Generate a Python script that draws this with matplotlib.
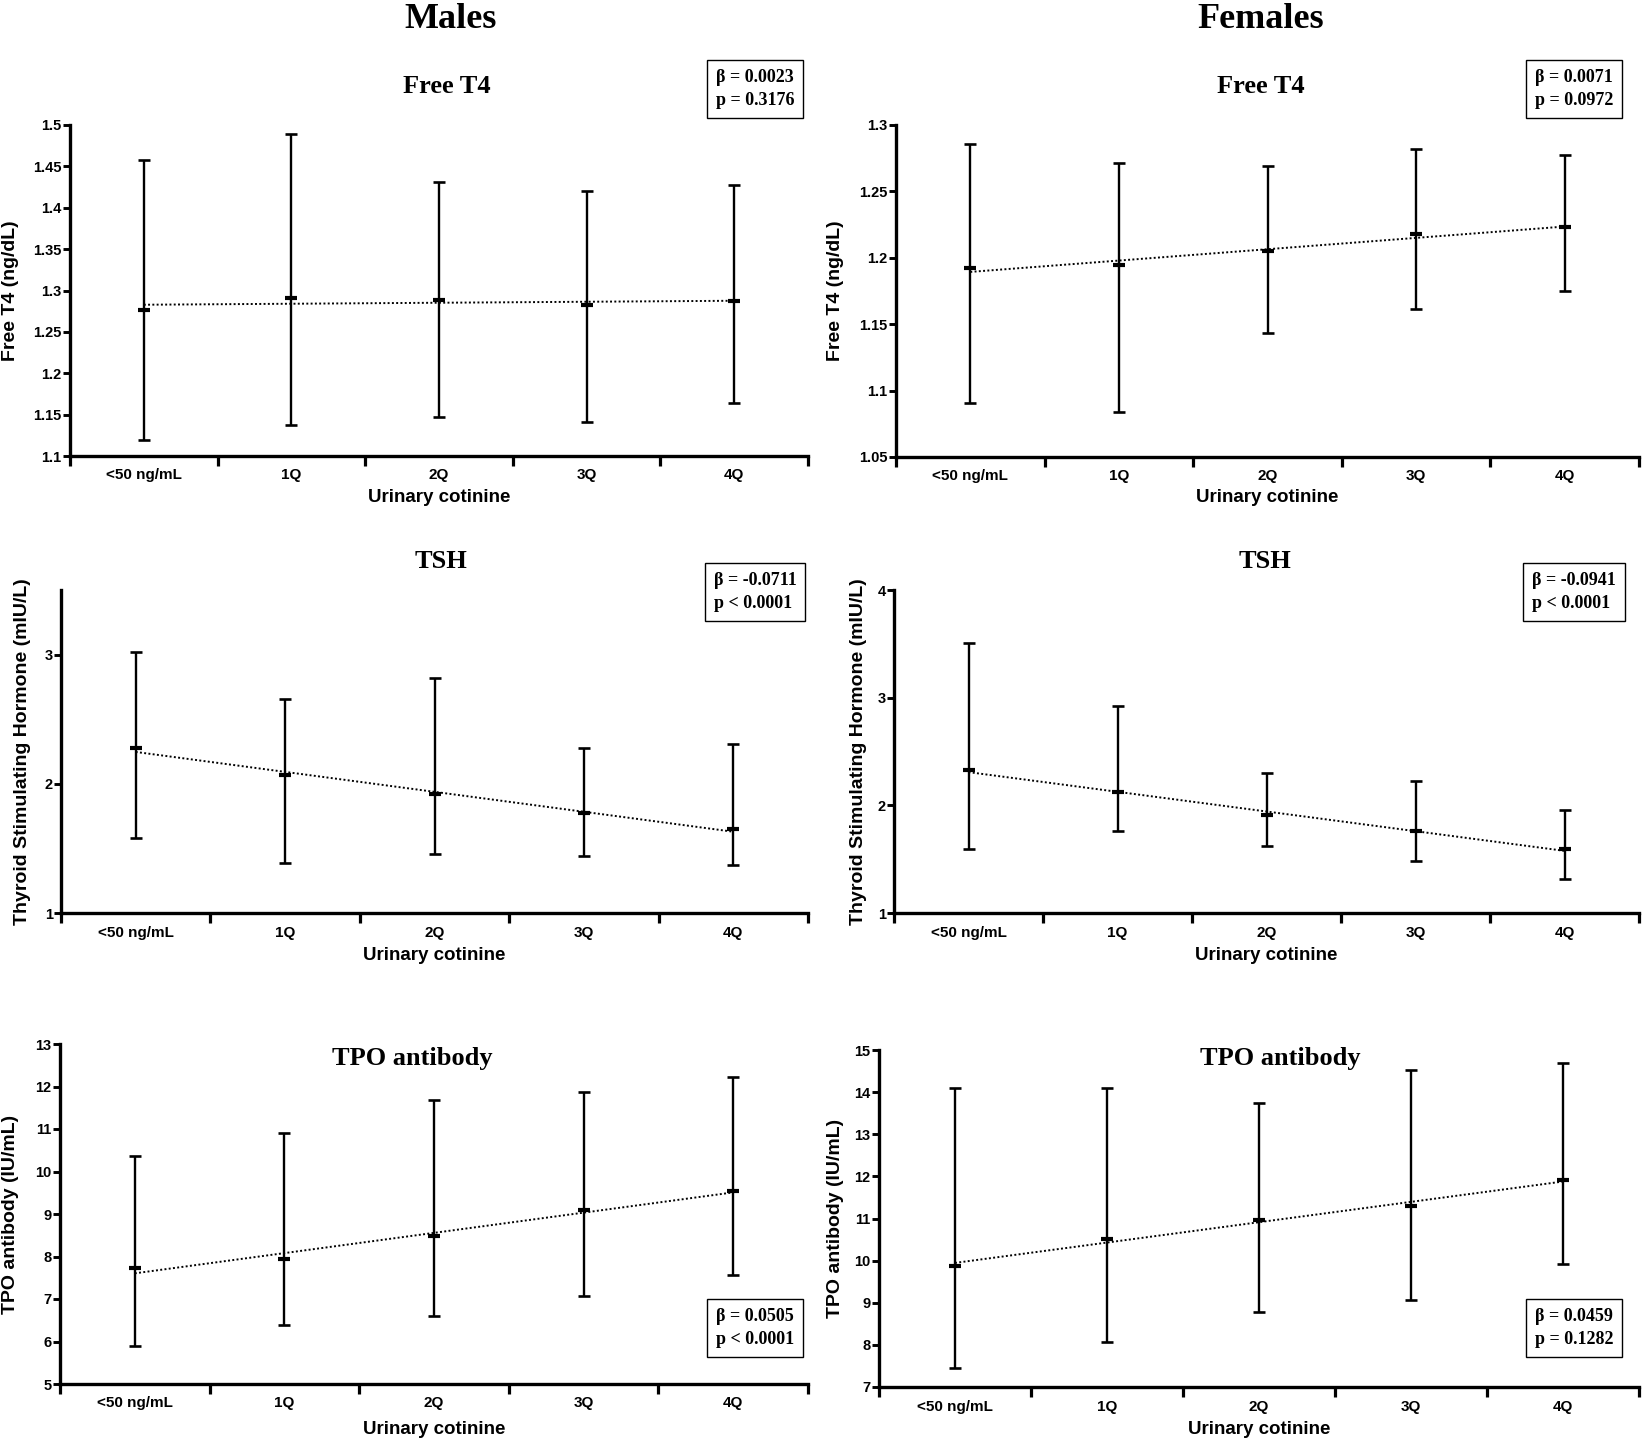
import matplotlib
matplotlib.use('Agg')
import matplotlib.pyplot as plt
import numpy as np
from matplotlib.ticker import FuncFormatter

plt.rcParams['font.family'] = ['Liberation Sans', 'DejaVu Sans']
plt.rcParams['font.weight'] = 'bold'

categories = ['<50 ng/mL', '1Q', '2Q', '3Q', '4Q']

### values (mean, lower, upper)

# males
m_ft4_mean = [1.277, 1.291, 1.288, 1.283, 1.287]
m_ft4_lo   = [1.119, 1.137, 1.147, 1.141, 1.164]
m_ft4_hi   = [1.458, 1.489, 1.431, 1.420, 1.428]

m_tsh_mean = [2.276, 2.067, 1.922, 1.773, 1.651]
m_tsh_lo   = [1.581, 1.388, 1.457, 1.442, 1.375]
m_tsh_hi   = [3.023, 2.654, 2.819, 2.279, 2.305]

m_tpo_mean = [7.72, 7.95, 8.49, 9.09, 9.53]
m_tpo_lo   = [5.90, 6.40, 6.60, 7.06, 7.56]
m_tpo_hi   = [10.36, 10.90, 11.68, 11.86, 12.23]

# females
f_ft4_mean = [1.192, 1.1945, 1.2048, 1.2181, 1.2229]
f_ft4_lo   = [1.0907, 1.0839, 1.1435, 1.1618, 1.1751]
f_ft4_hi   = [1.2857, 1.2714, 1.2688, 1.2822, 1.2774]

f_tsh_mean = [2.327, 2.126, 1.906, 1.758, 1.597]
f_tsh_lo   = [1.597, 1.761, 1.625, 1.479, 1.316]
f_tsh_hi   = [3.505, 2.923, 2.298, 2.229, 1.956]

f_tpo_mean = [9.88, 10.52, 10.96, 11.29, 11.91]
f_tpo_lo   = [7.45, 8.07, 8.77, 9.07, 9.93]
f_tpo_hi   = [14.09, 14.10, 13.75, 14.52, 14.68]

stats = ['\u03b2 = 0.0023\np = 0.3176', '\u03b2 = 0.0071\np = 0.0972',
         '\u03b2 = -0.0711\np < 0.0001', '\u03b2 = -0.0941\np < 0.0001',
         '\u03b2 = 0.0505\np < 0.0001', '\u03b2 = 0.0459\np = 0.1282']

titles = ['Free T4', 'Free T4', 'TSH', 'TSH', 'TPO antibody', 'TPO antibody']
ylabels = ['Free T4 (ng/dL)', 'Free T4 (ng/dL)',
           'Thyroid Stimulating Hormone (mIU/L)', 'Thyroid Stimulating Hormone (mIU/L)',
           'TPO antibody (IU/mL)', 'TPO antibody (IU/mL)']

W, H = 1645, 1443
fig = plt.figure(figsize=(W / 100, H / 100), dpi=100)

def px(x, y):
    return x / W, 1 - y / H

# axes boxes in pixels: left, right, top, bottom
boxes = [(70, 808, 125, 456), (896, 1639, 125, 457),
         (61, 808, 590, 913), (894, 1639, 590, 913),
         (60, 808, 1044, 1384), (879, 1639, 1050, 1387)]

panels = [(m_ft4_mean, m_ft4_lo, m_ft4_hi, (1.1, 1.5), np.arange(1.1, 1.501, 0.05)),
          (f_ft4_mean, f_ft4_lo, f_ft4_hi, (1.05, 1.3), np.arange(1.05, 1.301, 0.05)),
          (m_tsh_mean, m_tsh_lo, m_tsh_hi, (1, 3.5), [1, 2, 3]),
          (f_tsh_mean, f_tsh_lo, f_tsh_hi, (1, 4), [1, 2, 3, 4]),
          (m_tpo_mean, m_tpo_lo, m_tpo_hi, (5, 13), range(5, 14)),
          (f_tpo_mean, f_tpo_lo, f_tpo_hi, (7, 15), range(7, 16))]

# title baselines / centres (pixels)
title_pos = [(447, 93), (1261, 93), (441, 568), (1265, 568), (412, 1065), (1280, 1065)]
stat_pos = [(755, 89), (1574, 89), (755, 592), (1574, 592), (755, 1328), (1574, 1328)]
xlab_y = [498, 498, 956, 956, 1429, 1429]
ylab_x = [11, 836, 23, 858, 11, 836]

x = np.arange(len(categories))

for i, (mean, lo, hi, ylim, yt) in enumerate(panels):
    l, r, t, b = boxes[i]
    ax = fig.add_axes([l / W, 1 - b / H, (r - l) / W, (b - t) / H])
    mean = np.array(mean); lo = np.array(lo); hi = np.array(hi)

    # regression line through the group means
    k, c = np.polyfit(x, mean, 1)
    ax.plot(x, k * x + c, color='black', linestyle=(0, (1, 1.2)), linewidth=1.4, zorder=1)

    ax.errorbar(x, mean, yerr=[mean - lo, hi - mean], fmt='none', ecolor='black',
                elinewidth=1.7, capsize=4, capthick=1.9, zorder=2)
    ax.plot(x, mean, linestyle='none', marker='_', markersize=9, mew=3, color='black', zorder=3)

    ax.set_xlim(-0.5, 4.5)
    ax.set_ylim(*ylim)
    ax.set_yticks(list(yt))
    ax.yaxis.set_major_formatter(FuncFormatter(lambda v, p: '%g' % round(v, 3)))
    ax.set_xticks(np.arange(-0.5, 4.6, 1))
    ax.set_xticklabels([])
    ax.set_xticks(x, minor=True)
    ax.set_xticklabels(categories, minor=True)
    ax.tick_params(axis='x', which='major', direction='out', length=7, width=2.3)
    ax.tick_params(axis='x', which='minor', length=0, pad=9, labelsize=11)
    ax.tick_params(axis='y', direction='out', length=5, width=2.1, pad=1, labelsize=10.5)
    for s in ['top', 'right']:
        ax.spines[s].set_visible(False)
    for s in ['left', 'bottom']:
        ax.spines[s].set_linewidth(2.4)

    tx, ty = title_pos[i]
    fig.text(*px(tx, ty), titles[i], ha='center', va='baseline',
             family='Liberation Serif', weight='bold', fontsize=19)
    sx, sy = stat_pos[i]
    fig.text(*px(sx, sy), stats[i], ha='center', va='center', multialignment='left',
             family='Liberation Serif', weight='bold', fontsize=13, linespacing=1.4,
             bbox=dict(boxstyle='square,pad=0.5', facecolor='white', edgecolor='black', linewidth=1))
    fig.text(*px((l + r) / 2, xlab_y[i]), 'Urinary cotinine', ha='center', va='center',
             fontsize=13.5, weight='bold')
    fig.text(*px(ylab_x[i], (t + b) / 2), ylabels[i], ha='center', va='center',
             rotation=90, fontsize=14, weight='bold')

fig.text(*px(451, 28), 'Males', ha='center', va='baseline',
         family='Liberation Serif', weight='bold', fontsize=26)
fig.text(*px(1261, 28), 'Females', ha='center', va='baseline',
         family='Liberation Serif', weight='bold', fontsize=26)

fig.savefig('out.png', dpi=100)
